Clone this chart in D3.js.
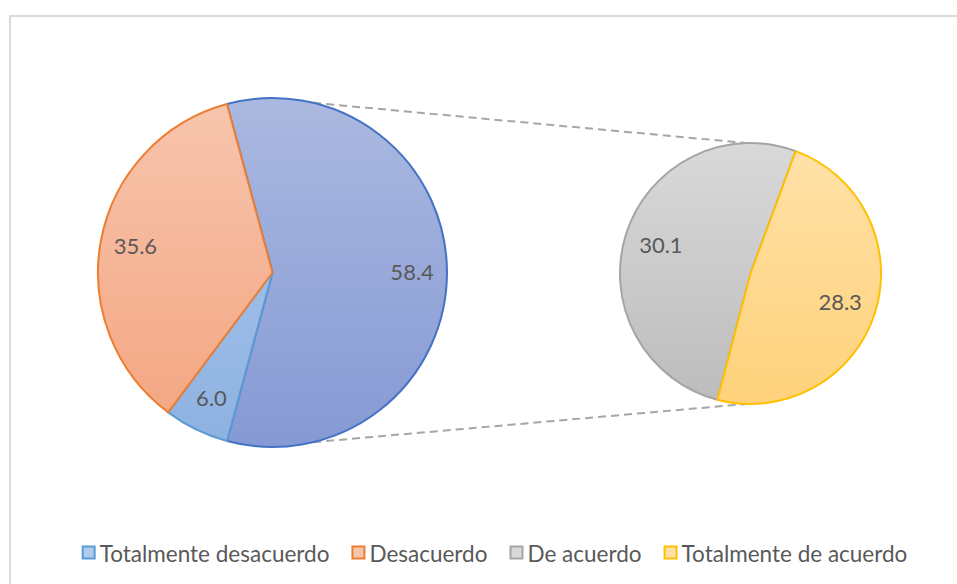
<!DOCTYPE html>
<html>
<head>
<meta charset="utf-8">
<script src="https://cdn.jsdelivr.net/npm/d3@7"></script>
<style>
  body { margin: 0; background: #fff; }
  svg text { font-family: Lato, "Noto Sans", sans-serif; fill: #595959; }
</style>
</head>
<body>
<svg id="chart" width="957" height="584"></svg>
<script>
// data
var categories = ["Totalmente desacuerdo", "Desacuerdo", "De acuerdo", "Totalmente de acuerdo"];
var values = [6.0, 35.6, 30.1, 28.3];
var secondaryCats = ["De acuerdo", "Totalmente de acuerdo"];   // go to the small pie

var fills = {
  "Totalmente desacuerdo": ["#b0cbed", "#8db1e1", "#5B9BD5"],
  "Desacuerdo":            ["#f7c5ae", "#f4a47f", "#ED7D31"],
  "De acuerdo":            ["#d9d9d9", "#bcbcbc", "#A5A5A5"],
  "Totalmente de acuerdo": ["#ffe1a8", "#ffd27b", "#FFC000"],
  "Otros":                 ["#abb9e0", "#8599d4", "#4472C4"]
};

var svg = d3.select("#chart");

// frame
svg.append("rect")
  .attr("x", 10).attr("y", 16)
  .attr("width", 990).attr("height", 600)
  .attr("fill", "none")
  .attr("stroke", "#d9d9d9")
  .attr("stroke-width", 2);

var rows = categories.map(function(c, i){ return {cat: c, val: values[i]}; });
var secRows = rows.filter(function(d){ return secondaryCats.indexOf(d.cat) >= 0; });
var otherVal = d3.sum(secRows, function(d){ return d.val; });
// main pie: "other" slice first, then the rest in order
var mainRows = [{cat: "Otros", val: otherVal}].concat(rows.filter(function(d){ return secondaryCats.indexOf(d.cat) < 0; }));
var total = d3.sum(mainRows, function(d){ return d.val; });

var main = {cx: 272.5, cy: 272.5, r: 174.5};
var sec  = {cx: 750.5, cy: 273.5, r: 130.5};

var rad = Math.PI / 180;
var mainStart = Math.PI/2 - (otherVal/total)*Math.PI;   // other slice centred facing the small pie
var secStart = -165.3 * rad;

var mainPie = d3.pie().sort(null).value(function(d){ return d.val; })
  .startAngle(mainStart).endAngle(mainStart + 2*Math.PI);
var secPie = d3.pie().sort(null).value(function(d){ return d.val; })
  .startAngle(secStart).endAngle(secStart + 2*Math.PI);

var defs = svg.append("defs");
function grad(id, c, cy, r){
  var g = defs.append("linearGradient").attr("id", id)
    .attr("gradientUnits", "userSpaceOnUse")
    .attr("x1", 0).attr("x2", 0).attr("y1", cy - r).attr("y2", cy + r);
  g.append("stop").attr("offset", "0%").attr("stop-color", c[0]);
  g.append("stop").attr("offset", "100%").attr("stop-color", c[1]);
}

// connector lines (dashed)
var connAngle = 13.5 * rad, secAngle = -1.7 * rad;
var conn = [
  [main.cx + main.r*Math.sin(connAngle), main.cy - main.r*Math.cos(connAngle),
   sec.cx + sec.r*Math.sin(secAngle), sec.cy - sec.r*Math.cos(secAngle)],
  [main.cx + main.r*Math.sin(connAngle), main.cy + main.r*Math.cos(connAngle),
   sec.cx + sec.r*Math.sin(secAngle), sec.cy + sec.r*Math.cos(secAngle)]
];
svg.selectAll(".conn").data(conn).enter().append("line")
  .attr("class", "conn")
  .attr("x1", function(d){ return d[0]; }).attr("y1", function(d){ return d[1]; })
  .attr("x2", function(d){ return d[2]; }).attr("y2", function(d){ return d[3]; })
  .attr("stroke", "#a6a6a6").attr("stroke-width", 2)
  .attr("stroke-dasharray", "8,5");

function drawPie(rowsIn, pie, geo, labelR, prefix){
  var arc = d3.arc().innerRadius(0).outerRadius(geo.r);
  var lab = d3.arc().innerRadius(geo.r*labelR).outerRadius(geo.r*labelR);
  var g = svg.append("g").attr("transform", "translate(" + geo.cx + "," + geo.cy + ")");
  var arcs = pie(rowsIn);
  arcs.forEach(function(a, i){
    grad(prefix + i, fills[a.data.cat], 0, geo.r);
  });
  g.selectAll("path").data(arcs).enter().append("path")
    .attr("d", arc)
    .attr("fill", function(d, i){ return "url(#" + prefix + i + ")"; })
    .attr("stroke", function(d){ return fills[d.data.cat][2]; })
    .attr("stroke-width", 2)
    .attr("stroke-linejoin", "round");
  g.selectAll("text").data(arcs).enter().append("text")
    .attr("transform", function(d){ return "translate(" + lab.centroid(d) + ")"; })
    .attr("text-anchor", "middle")
    .attr("dy", "0.36em")
    .style("font-size", "22px")
    .text(function(d){ return d.data.val.toFixed(1); });
}

drawPie(mainRows, mainPie, main, 0.8, "gm");
drawPie(secRows, secPie, sec, 0.72, "gs");

// legend
var legend = svg.append("g").style("font-size", "22.5px");
var items = legend.selectAll("g").data(categories).enter().append("g");
items.append("rect")
  .attr("width", 12).attr("height", 12)
  .attr("y", -7)
  .attr("fill", function(d){ return fills[d][0]; })
  .attr("stroke", function(d){ return fills[d][2]; })
  .attr("stroke-width", 2);
items.append("text")
  .attr("x", 17)
  .attr("dy", "0.36em")
  .text(function(d){ return d; });

var xpos = 0;
items.each(function(){
  var w = d3.select(this).select("text").node().getComputedTextLength();
  d3.select(this).attr("transform", "translate(" + xpos + ",0)");
  xpos += 17 + w + 23;
});
var legW = xpos - 23;
legend.attr("transform", "translate(" + (495 - legW/2) + ",553.5)");
</script>
</body>
</html>
